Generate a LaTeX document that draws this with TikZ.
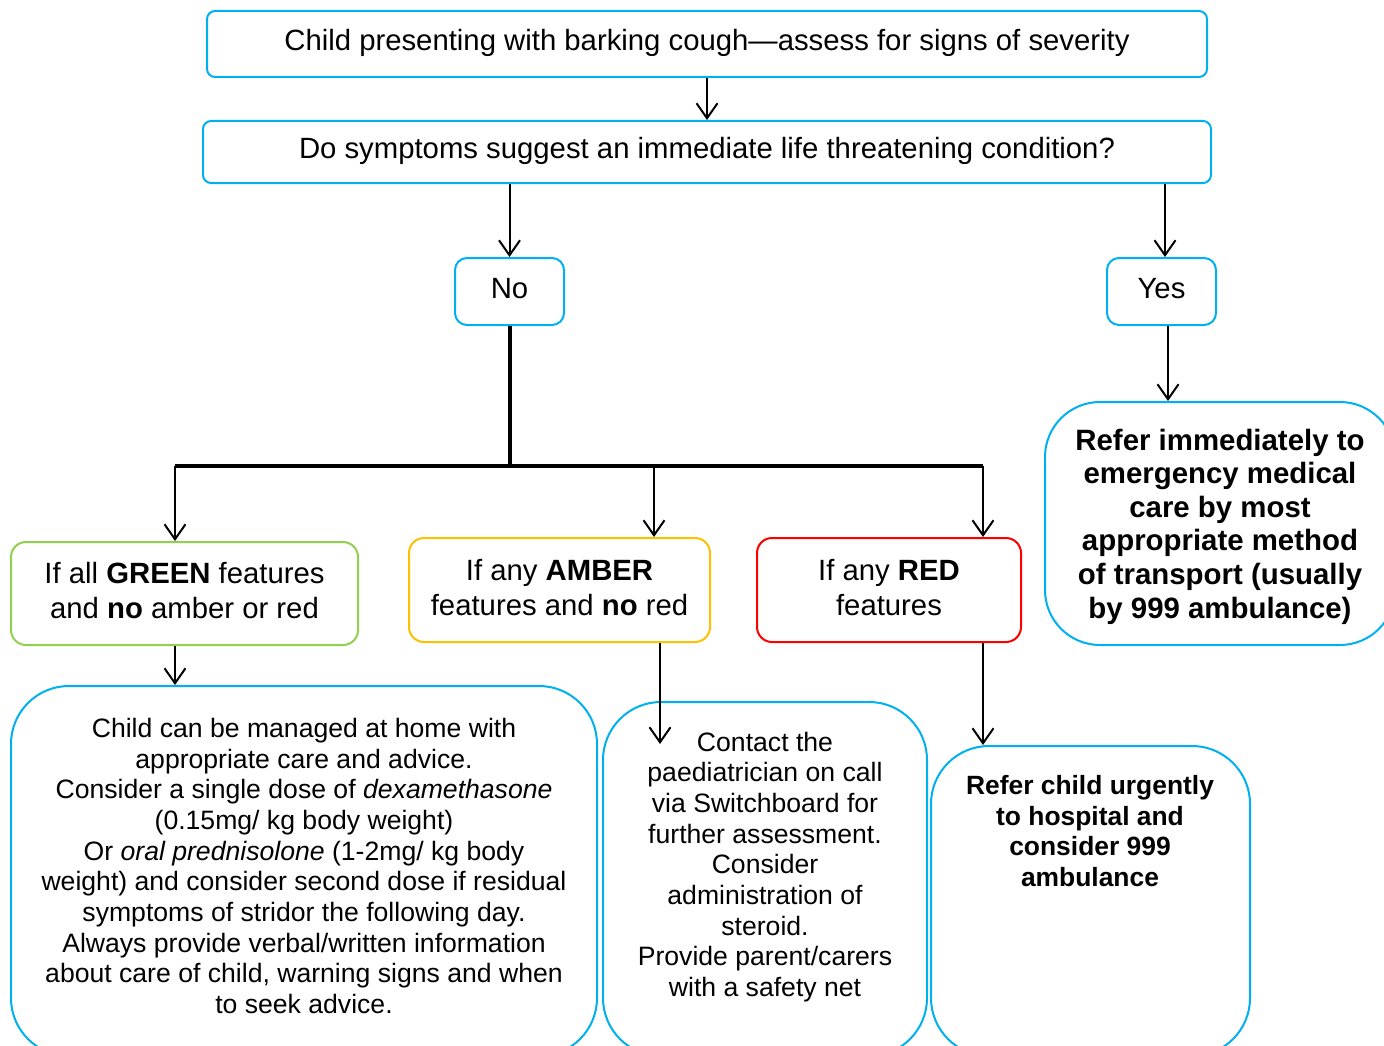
\documentclass[tikz,border=0pt]{standalone}
\usepackage{fontspec}
\setmainfont{Liberation Sans}
\usetikzlibrary{positioning,arrows.meta}

\definecolor{boxblue}{HTML}{00B0F0}
\definecolor{boxgreen}{HTML}{92D050}
\definecolor{boxamber}{HTML}{FFC000}
\definecolor{boxred}{HTML}{FF0000}

\begin{document}
\begin{tikzpicture}[x=1pt, y=-1pt, line width=2pt, >={Straight Barb[length=15pt,width=21pt]},
    main node/.style={draw=boxblue, rounded corners=8pt, align=center, inner sep=0pt, text depth=7pt, font=\fontsize{29.3}{35}\selectfont},
    sign node/.style={main node, draw=#1, rounded corners=15pt, minimum height=104pt, text depth=6pt},
    big node/.style={main node, rounded corners=58pt},
    text node/.style={align=center, inner sep=0pt, font=\fontsize{26.6}{30.7}\selectfont},
    trunk/.style={line width=4pt}]

    \path[use as bounding box, clip] (0,0) rectangle (1384,1046);

    \node[main node, minimum width=1000pt, minimum height=66pt, text depth=8pt] (top) at (707,44) {Child presenting with barking cough—assess for signs of severity};
    \node[main node, minimum width=1008pt, minimum height=62pt, text depth=8pt, below=42pt of top] (question) {Do symptoms suggest an immediate life threatening condition?};

    \node[main node, rounded corners=12pt, minimum width=109pt, minimum height=67pt] (no) at (509.5,291.5) {No};
    \node[main node, rounded corners=12pt, minimum width=109pt, minimum height=67pt, right=541pt of no] (yes) {Yes};

    \node[big node, rounded corners=55pt, minimum width=350pt, minimum height=243pt, text depth=0pt, font=\bfseries\fontsize{29.4}{33.6}\selectfont] (emergency) at (1220,523.5) {Refer immediately to\\emergency medical\\care by most\\appropriate method\\of transport (usually\\by 999 ambulance)};

    \node[sign node=boxgreen, minimum width=347pt, minimum height=103pt] (green) at (184.5,593.5) {If all \textbf{GREEN} features\\and \textbf{no} amber or red};
    \node[sign node=boxamber, minimum width=301pt] (amber) at (559.5,590) {If any \textbf{AMBER}\\features and \textbf{no} red};
    \node[sign node=boxred, minimum width=264pt] (red) at (889,590) {If any \textbf{RED}\\features};

    % bottom boxes run past the page
    \node[big node, minimum width=586pt, minimum height=370pt] (home) at (304,871) {};
    \node[big node, minimum width=324pt, minimum height=354pt] (contact) at (765,879) {};
    \node[big node, minimum width=319pt, minimum height=310pt] (urgent) at (1090.5,901) {};

    \node[text node] (hometext) at (304,866) {Child can be managed at home with\\appropriate care and advice.\\Consider a single dose of \textit{dexamethasone}\\(0.15mg/ kg body weight)\\Or \textit{oral prednisolone} (1-2mg/ kg body\\weight) and consider second dose if residual\\symptoms of stridor the following day.\\Always provide verbal/written information\\about care of child, warning signs and when\\to seek advice.};
    \node[text node] (contacttext) at (765,867) {Contact the\\paediatrician on call\\via Switchboard for\\further assessment.\\Consider\\administration of\\steroid.\\Provide parent/carers\\with a safety net};
    \node[text node, font=\bfseries\fontsize{26.4}{30.7}\selectfont] (urgenttext) at (1090,831) {Refer child urgently\\to hospital and\\consider 999\\ambulance};

    \coordinate (bg) at (175,465.5);
    \coordinate (ba) at (654,465.5);
    \coordinate (br) at (983,465.5);
    \coordinate (amberend) at (660,744);

    \draw[trunk] (no) -- (no |- bg);
    \draw[trunk] (bg) -- (br);

    \path[->]
        (top) edge (question)
        (no |- question.south) edge (no)
        ([xshift=3.5pt]yes.north |- question.south) edge ([xshift=3.5pt]yes.north)
        ([xshift=6.5pt]yes.south) edge ([xshift=6.5pt]yes.south |- emergency.north)
        (bg) edge (bg |- green.north)
        (ba) edge (ba |- amber.north)
        (br) edge (br |- red.north)
        (bg |- green.south) edge (bg |- home.north)
        (amber.south -| amberend) edge (amberend)
        (br |- red.south) edge (br |- urgent.north);
\end{tikzpicture}
\end{document}
